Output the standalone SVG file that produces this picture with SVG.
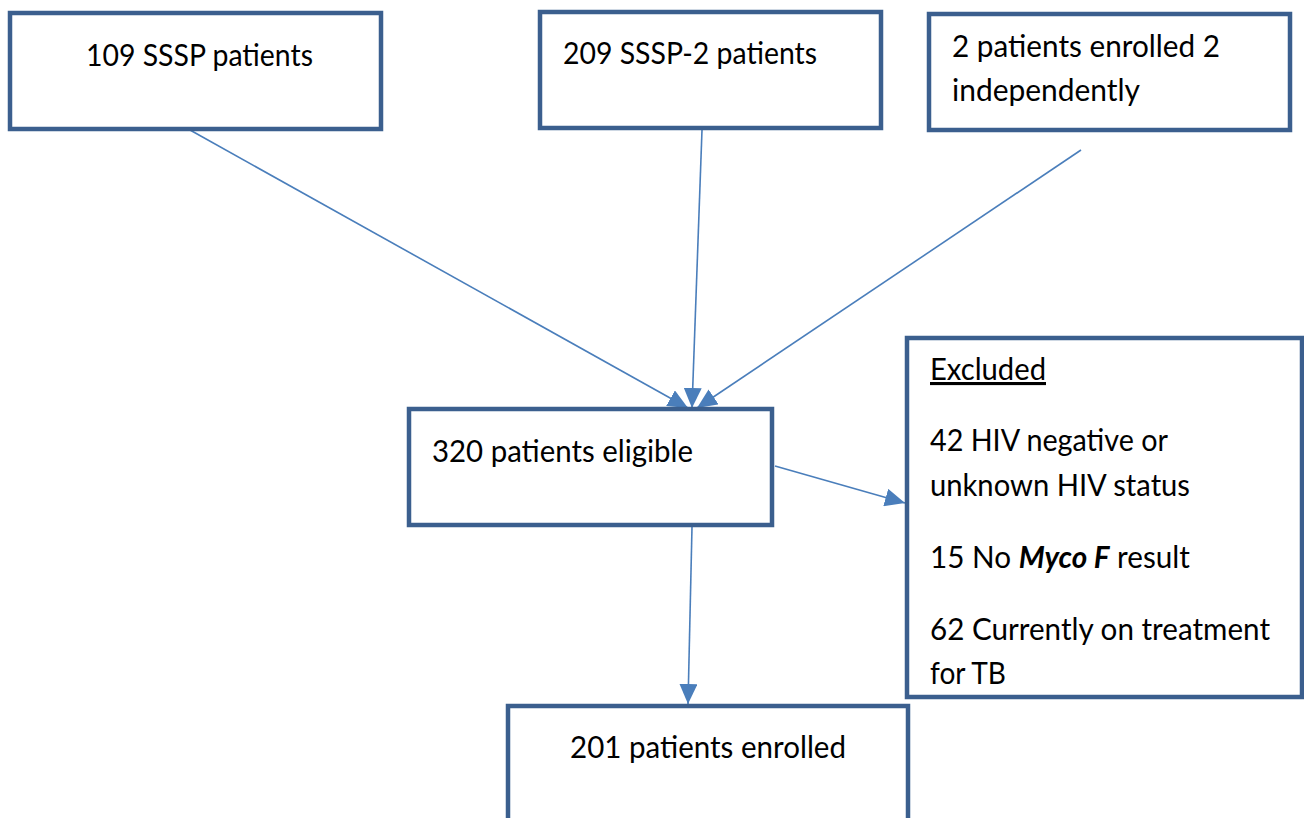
<svg xmlns="http://www.w3.org/2000/svg" width="1304" height="818" viewBox="0 0 1304 818">
<defs>
<style>
.box{fill:#fff;stroke:#3B5F8E;stroke-width:4.5}
.t{font-family:Lato,"Open Sans","Liberation Sans",sans-serif;font-size:31px;fill:#000}
.c{stroke:#4A7EBB;stroke-width:1.6;fill:none;marker-end:url(#ah)}
</style>
<marker id="ah" markerUnits="userSpaceOnUse" markerWidth="22" markerHeight="18" refX="20" refY="9" orient="auto">
<path d="M0,0 L20,9 L0,18 Z" fill="#4A7EBB"/>
</marker>
</defs>
<g id="connectors">
<line class="c" x1="190" y1="130" x2="688" y2="408"/>
<line class="c" x1="702" y1="130" x2="692" y2="408"/>
<line class="c" x1="1081" y1="150" x2="697" y2="408"/>
<line class="c" x1="775" y1="466" x2="905" y2="503"/>
<line class="c" x1="692" y1="527" x2="688" y2="704"/>
</g>
<g id="n1">
<rect class="box" x="10" y="13" width="371" height="116"/>
<text class="t" x="86" y="66" textLength="227" lengthAdjust="spacingAndGlyphs">109 SSSP patients</text>
</g>
<g id="n2">
<rect class="box" x="540" y="12" width="341" height="116"/>
<text class="t" x="563" y="64" textLength="254" lengthAdjust="spacingAndGlyphs">209 SSSP-2 patients</text>
</g>
<g id="n3">
<rect class="box" x="929" y="14" width="361" height="116"/>
<text class="t" x="952" y="57" textLength="268" lengthAdjust="spacingAndGlyphs">2 patients enrolled 2</text>
<text class="t" x="952" y="101" textLength="188" lengthAdjust="spacingAndGlyphs">independently</text>
</g>
<g id="n4">
<rect class="box" x="409" y="409" width="363" height="116"/>
<text class="t" x="432" y="462" textLength="261" lengthAdjust="spacingAndGlyphs">320 patients eligible</text>
</g>
<g id="n5">
<rect class="box" x="907" y="338" width="395" height="359"/>
<text class="t" x="930" y="380" textLength="116" lengthAdjust="spacingAndGlyphs" text-decoration="underline">Excluded</text>
<text class="t" x="930" y="451" textLength="238" lengthAdjust="spacingAndGlyphs">42 HIV negative or</text>
<text class="t" x="930" y="496" textLength="260" lengthAdjust="spacingAndGlyphs">unknown HIV status</text>
<text class="t" x="930" y="568" textLength="260" lengthAdjust="spacingAndGlyphs">15 No <tspan font-weight="bold" font-style="italic">Myco F</tspan> result</text>
<text class="t" x="930" y="640" textLength="340" lengthAdjust="spacingAndGlyphs">62 Currently on treatment</text>
<text class="t" x="930" y="684" textLength="76" lengthAdjust="spacingAndGlyphs">for TB</text>
</g>
<g id="n6">
<rect class="box" x="508" y="706" width="400" height="130"/>
<text class="t" x="570" y="758" textLength="276" lengthAdjust="spacingAndGlyphs">201 patients enrolled</text>
</g>
</svg>
